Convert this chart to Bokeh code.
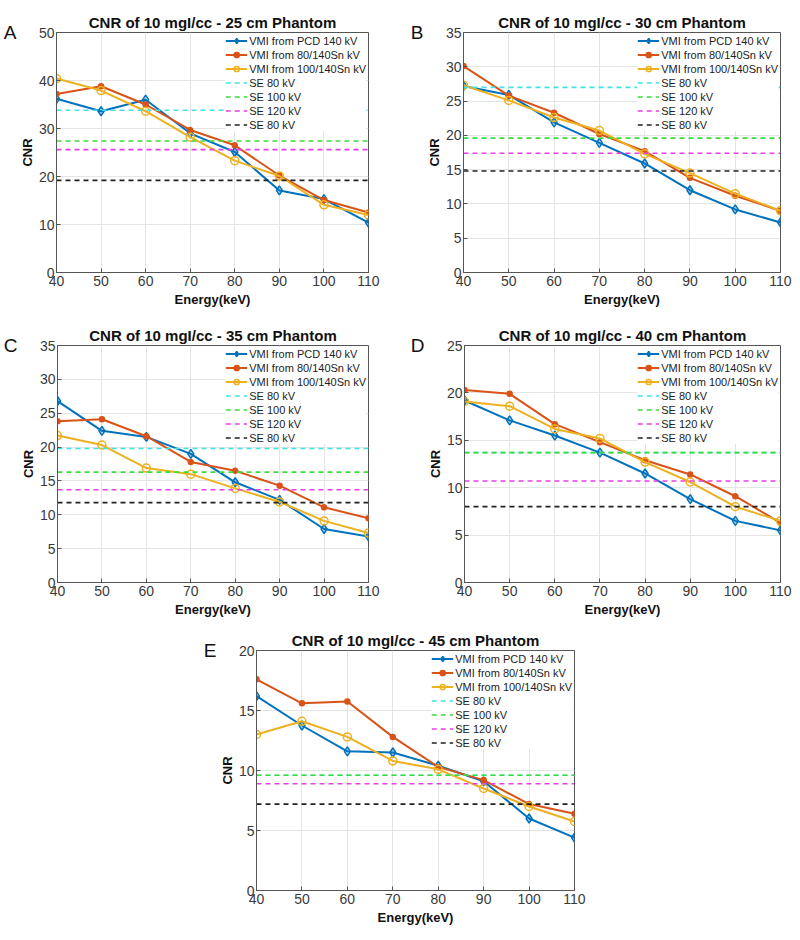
from bokeh.plotting import figure
from bokeh.layouts import column, row
from bokeh.models import Range1d, Legend, LegendItem, Spacer, FixedTicker, LinearAxis
from bokeh.embed import file_html
from bokeh.resources import INLINE

energy = [40, 50, 60, 70, 80, 90, 100, 110]
series_names = ["VMI from PCD 140 kV", "VMI from 80/140Sn kV", "VMI from 100/140Sn kV"]
se_names = ["SE 80 kV", "SE 100 kV", "SE 120 kV", "SE 80 kV"]

# Panel A - 25 cm
a_pcd = [36.2, 33.6, 36.0, 29.0, 25.1, 17.1, 15.3, 10.4]
a_80sn = [37.2, 38.8, 35.0, 29.7, 26.5, 20.2, 15.1, 12.5]
a_100sn = [40.4, 37.9, 33.6, 28.2, 23.3, 20.1, 14.1, 12.0]
a_se = [33.8, 27.4, 25.6, 19.2]

# Panel B - 30 cm
b_pcd = [27.2, 25.9, 21.9, 18.9, 15.9, 12.0, 9.2, 7.3]
b_80sn = [30.1, 25.8, 23.3, 20.2, 17.7, 13.8, 11.2, 9.0]
b_100sn = [27.3, 25.1, 22.6, 20.7, 17.3, 14.5, 11.5, 9.0]
b_se = [27.0, 19.6, 17.4, 14.8]

# Panel C - 35 cm
c_pcd = [26.8, 22.4, 21.5, 19.0, 14.8, 12.2, 7.9, 6.8]
c_80sn = [23.8, 24.1, 21.6, 17.8, 16.5, 14.3, 11.1, 9.5]
c_100sn = [21.7, 20.3, 16.9, 16.0, 13.9, 11.9, 9.1, 7.3]
c_se = [19.8, 16.3, 13.7, 11.8]

# Panel D - 40 cm
d_pcd = [19.2, 17.1, 15.5, 13.7, 11.5, 8.8, 6.5, 5.5]
d_80sn = [20.3, 19.9, 16.7, 14.8, 12.9, 11.4, 9.1, 6.3]
d_100sn = [19.1, 18.6, 16.2, 15.2, 12.7, 10.6, 8.0, 6.5]
d_se = [13.7, 13.7, 10.7, 8.0]

# Panel E - 45 cm
e_pcd = [16.2, 13.75, 11.6, 11.5, 10.4, 9.1, 6.0, 4.4]
e_80sn = [17.6, 15.6, 15.75, 12.8, 10.3, 9.2, 7.2, 6.4]
e_100sn = [13.0, 14.1, 12.8, 10.8, 10.1, 8.5, 7.0, 5.75]
e_se = [9.6, 9.6, 8.9, 7.2]

x_ticks = [40, 50, 60, 70, 80, 90, 100, 110]

SERIES_COLORS = ["#0072BD", "#D95319", "#EDB120"]
SE_COLORS = ["#3fe3e3", "#3ddc3d", "#e83ee8", "#222222"]
FONT = "Liberation Sans"


def make_panel(letter, title, ymax, ystep, vals, se, w, h, bl, br, bt, bb):
    p = figure(width=w, height=h, output_backend="svg", toolbar_location=None,
               x_range=Range1d(energy[0], energy[-1]), y_range=Range1d(0, ymax),
               min_border_left=bl, min_border_right=br, min_border_top=bt,
               min_border_bottom=bb, title=title)
    p.title.text_font = FONT
    p.title.text_font_size = "15px"
    p.title.text_font_style = "bold"
    p.title.align = "center"
    p.title.text_color = "#111111"
    p.title.standoff = 4
    p.outline_line_color = "#555555"
    p.outline_line_width = 1
    p.background_fill_color = "white"
    p.xaxis.ticker = FixedTicker(ticks=x_ticks)
    p.yaxis.ticker = FixedTicker(ticks=list(range(0, ymax + 1, ystep)))
    for ax in (p.xaxis[0], p.yaxis[0]):
        ax.major_label_text_font = FONT
        ax.major_label_text_font_size = "14px"
        ax.major_label_text_color = "#3a3a3a"
        ax.axis_label_text_font = FONT
        ax.axis_label_text_font_size = "13px"
        ax.axis_label_text_font_style = "bold"
        ax.axis_label_text_color = "#111111"
        ax.major_tick_in = 4
        ax.major_tick_out = 0
        ax.minor_tick_line_color = None
        ax.axis_line_color = "#555555"
        ax.major_tick_line_color = "#555555"
        ax.major_label_standoff = 3
        ax.axis_label_standoff = 3
    p.yaxis.major_label_standoff = 2
    p.yaxis.axis_label_standoff = 1
    p.xaxis.axis_label = "Energy(keV)"
    p.yaxis.axis_label = "CNR"
    p.xgrid.grid_line_color = "#e4e4e4"
    p.ygrid.grid_line_color = "#e4e4e4"

    # panel letter, drawn as the single tick label of an extra outer left axis
    p.extra_y_ranges = {"letter": Range1d(0, 1)}
    lab_ax = LinearAxis(y_range_name="letter", ticker=FixedTicker(ticks=[1]),
                        major_label_overrides={1: letter})
    lab_ax.axis_line_color = None
    lab_ax.major_tick_line_color = None
    lab_ax.minor_tick_line_color = None
    lab_ax.major_tick_in = 0
    lab_ax.major_tick_out = 0
    lab_ax.major_label_standoff = 0
    lab_ax.major_label_text_font = FONT
    lab_ax.major_label_text_font_size = "19px"
    lab_ax.major_label_text_color = "#111111"
    p.add_layout(lab_ax, "left")

    items = []
    markers = [("diamond", 9, 0.25), ("circle", 5, 1.0), ("circle", 8, 0.0)]
    for i, ys in enumerate(vals):
        col = SERIES_COLORS[i]
        ln = p.line(energy, ys, line_color=col, line_width=2)
        mk, sz, falpha = markers[i]
        sc = p.scatter(energy, ys, marker=mk, size=sz, line_color=col, line_width=1.5,
                       fill_color=col, fill_alpha=falpha)
        items.append(LegendItem(label=series_names[i], renderers=[ln, sc]))
    for j, yv in enumerate(se):
        ln = p.line([energy[0], energy[-1]], [yv, yv], line_color=SE_COLORS[j],
                    line_width=1.6, line_dash="5 4")
        items.append(LegendItem(label=se_names[j], renderers=[ln]))

    leg = Legend(items=items, location="top_right")
    leg.label_text_font = FONT
    leg.label_text_font_size = "11px"
    leg.label_text_color = "#222222"
    leg.label_height = 13
    leg.glyph_height = 13
    leg.glyph_width = 22
    leg.label_standoff = 2
    leg.spacing = 1
    leg.padding = 2
    leg.margin = 2
    leg.border_line_color = None
    leg.background_fill_color = "white"
    leg.background_fill_alpha = 1.0
    p.add_layout(leg)
    return p


pA = make_panel("A", "CNR of 10 mgI/cc - 25 cm Phantom", 50, 10,
                [a_pcd, a_80sn, a_100sn], a_se, 400, 304, 45, 32, 24, 40)
pB = make_panel("B", "CNR of 10 mgI/cc - 30 cm Phantom", 35, 5,
                [b_pcd, b_80sn, b_100sn], b_se, 392, 304, 63, 12, 24, 40)
pC = make_panel("C", "CNR of 10 mgI/cc - 35 cm Phantom", 35, 5,
                [c_pcd, c_80sn, c_100sn], c_se, 400, 310, 45, 32, 33, 40)
pD = make_panel("D", "CNR of 10 mgI/cc - 40 cm Phantom", 25, 5,
                [d_pcd, d_80sn, d_100sn], d_se, 392, 310, 64, 12, 31, 40)
pE = make_panel("E", "CNR of 10 mgI/cc - 45 cm Phantom", 20, 5,
                [e_pcd, e_80sn, e_100sn], e_se, 394, 308, 49, 20, 28, 40)

grid = column(row(pA, pB), row(pC, pD), row(Spacer(width=200, height=308), pE))
layout = column(Spacer(width=792, height=8), grid)

open("out.html", "w").write(file_html(layout, INLINE))
